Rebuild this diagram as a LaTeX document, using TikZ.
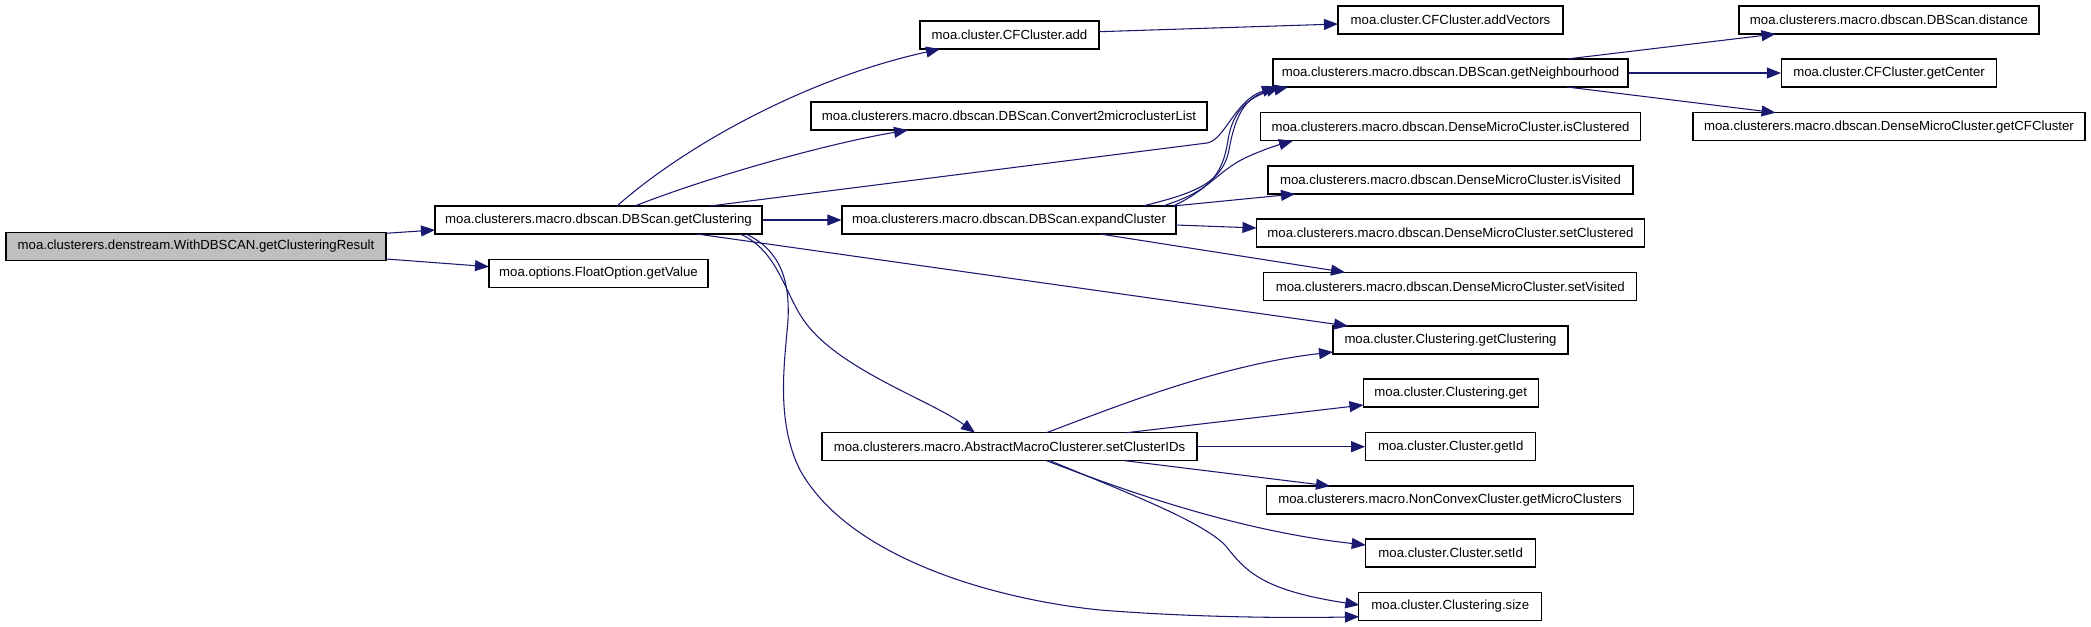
\documentclass[tikz,border=0pt]{standalone}
\usepackage{fontspec}
\setmainfont{Liberation Sans}
\usetikzlibrary{arrows.meta,calc}
\definecolor{edgeblue}{RGB}{25,25,112}
\definecolor{rootgray}{RGB}{191,191,191}
\begin{document}
\begin{tikzpicture}[x=0.75pt,y=-0.75pt,
  fn/.style={draw=black,line width=0.9pt,fill=white,minimum height=21pt,inner sep=0pt,
    font=\fontsize{9.9}{12}\selectfont,anchor=center},
  rootfn/.style={fn,fill=rootgray},
  call/.style={draw=edgeblue,line width=0.8pt,-{Triangle[length=10.5pt,width=8.2pt]}}]
\useasboundingbox (0,0) rectangle (2091,627);

% column 0 / 1
\node[rootfn,minimum width=285pt] (root) at (196,246.5) {moa.clusterers.denstream.WithDBSCAN.getClusteringResult};
\node[fn,minimum width=245.25pt] (gc) at (598.5,220) {moa.clusterers.macro.dbscan.DBScan.getClustering};
\node[fn,minimum width=164.25pt] (floatopt) at (598.5,273.3) {moa.options.FloatOption.getValue};
% column 2
\node[fn,minimum width=134.25pt] (cfadd) at (1009.5,35) {moa.cluster.CFCluster.add};
\node[fn,minimum width=297pt] (convert) at (1009,116) {moa.clusterers.macro.dbscan.DBScan.Convert2microclusterList};
\node[fn,minimum width=250.5pt] (expand) at (1009,220) {moa.clusterers.macro.dbscan.DBScan.expandCluster};
\node[fn,minimum width=281.25pt] (setids) at (1009.5,446.7) {moa.clusterers.macro.AbstractMacroClusterer.setClusterIDs};
% column 3
\node[fn,minimum width=168.75pt] (addvec) at (1450.5,20) {moa.cluster.CFCluster.addVectors};
\node[fn,minimum width=266.25pt] (neigh) at (1450.5,73) {moa.clusterers.macro.dbscan.DBScan.getNeighbourhood};
\node[fn,minimum width=285pt] (isclu) at (1450.5,126.7) {moa.clusterers.macro.dbscan.DenseMicroCluster.isClustered};
\node[fn,minimum width=273.75pt] (isvis) at (1450.5,180) {moa.clusterers.macro.dbscan.DenseMicroCluster.isVisited};
\node[fn,minimum width=291pt] (setclu) at (1450.5,233) {moa.clusterers.macro.dbscan.DenseMicroCluster.setClustered};
\node[fn,minimum width=279.75pt] (setvis) at (1450.3,286.3) {moa.clusterers.macro.dbscan.DenseMicroCluster.setVisited};
\node[fn,minimum width=176.25pt] (cgetclu) at (1450.5,340) {moa.cluster.Clustering.getClustering};
\node[fn,minimum width=131.25pt] (cget) at (1450.7,393) {moa.cluster.Clustering.get};
\node[fn,minimum width=127.5pt] (getid) at (1450.7,446.7) {moa.cluster.Cluster.getId};
\node[fn,minimum width=275.25pt] (micro) at (1450,500) {moa.clusterers.macro.NonConvexCluster.getMicroClusters};
\node[fn,minimum width=127.5pt] (setid) at (1450.7,553) {moa.cluster.Cluster.setId};
\node[fn,minimum width=137.25pt] (size) at (1450.3,606.3) {moa.cluster.Clustering.size};
% column 4
\node[fn,minimum width=225pt] (distance) at (1889,20) {moa.clusterers.macro.dbscan.DBScan.distance};
\node[fn,minimum width=161.25pt] (center) at (1889,73) {moa.cluster.CFCluster.getCenter};
\node[fn,minimum width=294pt] (getcf) at (1889,126.7) {moa.clusterers.macro.dbscan.DenseMicroCluster.getCFCluster};

% edges
\draw[call] ($(root)+(190,-13.2)$) -- ($(gc)+(-163.5,10)$);
\draw[call] ($(root)+(190,12.5)$) -- ($(floatopt)+(-109.5,-6.6)$);

\draw[call] ($(gc)+(18.5,-14)$) .. controls (680,150) and (800,80) .. ($(cfadd)+(-69.5,14)$);
\draw[call] ($(gc)+(36.5,-14)$) .. controls (700,180) and (820,145) .. ($(convert)+(-101,14)$);
\draw[call] ($(gc)+(111.5,-14)$) -- (1207,143) .. controls (1225,140) and (1235,100) .. ($(neigh)+(-174.5,14)$);
\draw[call] (gc.east) -- (expand.west);
\draw[call] ($(gc)+(98.5,14)$) -- ($(cgetclu)+(-102.5,-14)$);
\draw[call] ($(gc)+(141.5,14)$) .. controls (778,250) and (785,295) .. (805,322)
   .. controls (840,370) and (930,400) .. ($(setids)+(-34.5,-14)$);
\draw[call] ($(gc)+(147.5,14)$) .. controls (780,250) and (790,280) .. (788,320)
   .. controls (785,360) and (775,420) .. (800,470)
   .. controls (850,560) and (1000,600) .. (1100,610)
   .. controls (1200,618) and (1300,618) .. ($(size)+(-91.3,10.4)$);

\draw[call] ($(cfadd)+(89.5,-3.3)$) -- ($(addvec)+(-112.5,4)$);

\draw[call] ($(expand)+(134,-14)$) .. controls (1190,194) and (1222,185) .. (1229,150)
   .. controls (1236,110) and (1248,97) .. ($(neigh)+(-170.5,14)$);
\draw[call] ($(expand)+(154,-14)$) .. controls (1205,192) and (1222,180) .. (1228,140)
   .. controls (1233,108) and (1252,95) .. ($(neigh)+(-162.5,14)$);
\draw[call] ($(expand)+(164,-14)$) .. controls (1205,192) and (1220,170) .. (1245,158)
   .. controls (1262,150) and (1278,145) .. ($(isclu)+(-157.5,14)$);
\draw[call] ($(expand)+(164,-14)$) -- ($(isvis)+(-155.5,14)$);
\draw[call] ($(expand)+(167,5)$) -- ($(setclu)+(-194,-5)$);
\draw[call] ($(expand)+(91,14)$) -- ($(setvis)+(-105.3,-14)$);

\draw[call] ($(neigh)+(116.5,-14)$) -- ($(distance)+(-113.5,14)$);
\draw[call] (neigh.east) -- (center.west);
\draw[call] ($(neigh)+(116.5,14)$) -- ($(getcf)+(-113.5,-14)$);

\draw[call] ($(setids)+(37,-14)$) .. controls (1120,405) and (1220,365) .. ($(cgetclu)+(-117.5,12)$);
\draw[call] ($(setids)+(117,-14)$) -- ($(cget)+(-87.2,12)$);
\draw[call] (setids.east) -- (getid.west);
\draw[call] ($(setids)+(115.5,14)$) -- ($(micro)+(-120,-14)$);
\draw[call] ($(setids)+(37,14)$) .. controls (1110,485) and (1230,530) .. ($(setid)+(-85,-8)$);
\draw[call] ($(setids)+(40.5,14)$) .. controls (1120,490) and (1200,520) .. (1225,545)
   .. controls (1245,570) and (1260,590) .. ($(size)+(-91,-1.3)$);
\end{tikzpicture}
\end{document}
